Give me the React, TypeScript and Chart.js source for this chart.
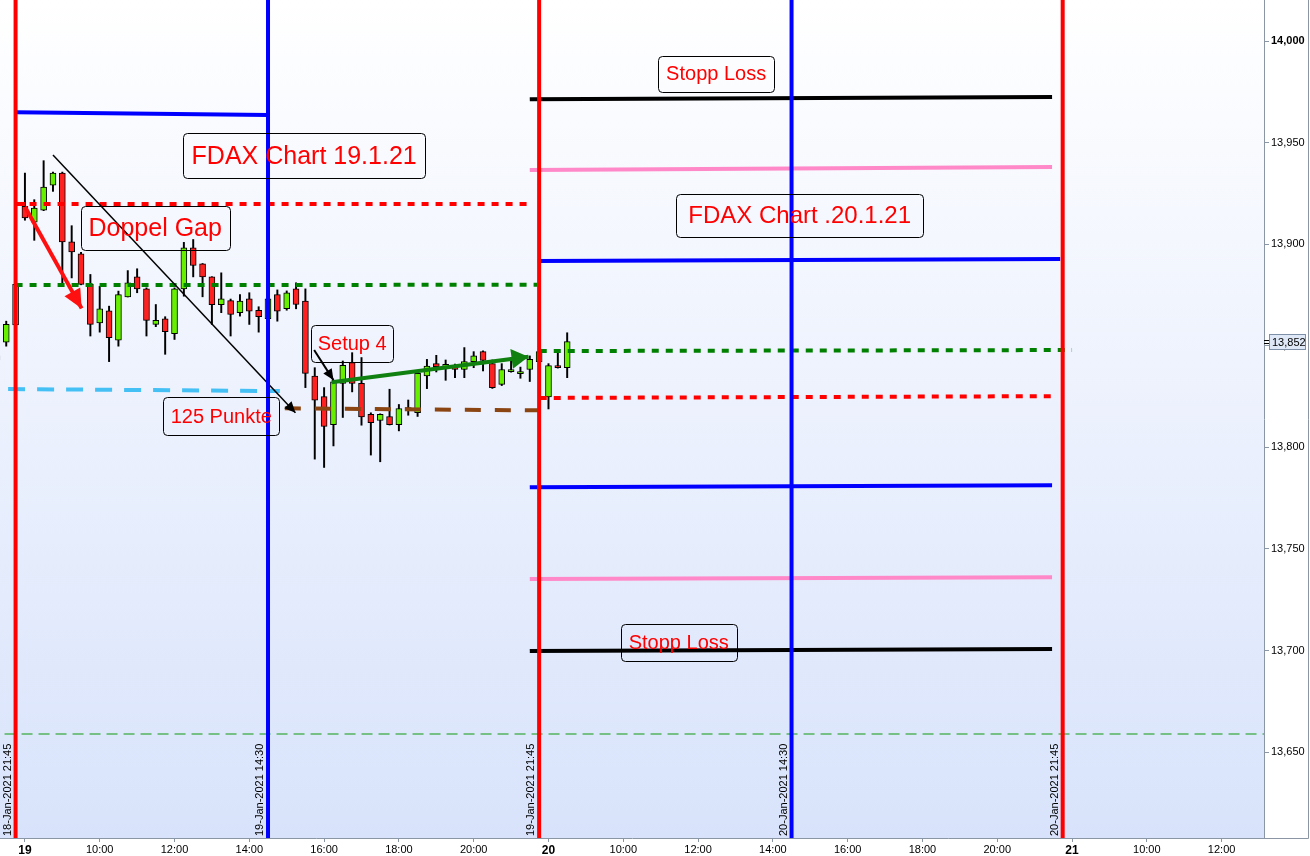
import React, { useEffect, useRef } from "react";
import { Chart, registerables } from "chart.js";

Chart.register(...registerables);

// ---------------- data ----------------
// 15-minute FDAX candles (session 08:00-22:00)
const candleTimes = [
  "2021-01-18 21:15", "2021-01-18 21:30", "2021-01-18 21:45",
  "2021-01-19 08:00", "2021-01-19 08:15", "2021-01-19 08:30", "2021-01-19 08:45",
  "2021-01-19 09:00", "2021-01-19 09:15", "2021-01-19 09:30", "2021-01-19 09:45",
  "2021-01-19 10:00", "2021-01-19 10:15", "2021-01-19 10:30", "2021-01-19 10:45",
  "2021-01-19 11:00", "2021-01-19 11:15", "2021-01-19 11:30", "2021-01-19 11:45",
  "2021-01-19 12:00", "2021-01-19 12:15", "2021-01-19 12:30", "2021-01-19 12:45",
  "2021-01-19 13:00", "2021-01-19 13:15", "2021-01-19 13:30", "2021-01-19 13:45",
  "2021-01-19 14:00", "2021-01-19 14:15", "2021-01-19 14:30", "2021-01-19 14:45",
  "2021-01-19 15:00", "2021-01-19 15:15", "2021-01-19 15:30", "2021-01-19 15:45",
  "2021-01-19 16:00", "2021-01-19 16:15", "2021-01-19 16:30", "2021-01-19 16:45",
  "2021-01-19 17:00", "2021-01-19 17:15", "2021-01-19 17:30", "2021-01-19 17:45",
  "2021-01-19 18:00", "2021-01-19 18:15", "2021-01-19 18:30", "2021-01-19 18:45",
  "2021-01-19 19:00", "2021-01-19 19:15", "2021-01-19 19:30", "2021-01-19 19:45",
  "2021-01-19 20:00", "2021-01-19 20:15", "2021-01-19 20:30", "2021-01-19 20:45",
  "2021-01-19 21:00", "2021-01-19 21:15", "2021-01-19 21:30", "2021-01-19 21:45",
  "2021-01-20 08:00", "2021-01-20 08:15", "2021-01-20 08:30",
];
const candleOpen = [
  13845, 13851.8, 13860.2,
  13918.6, 13910.8, 13916.8, 13929.1,
  13935, 13901.1, 13895.2, 13880.2,
  13861.3, 13867.2, 13852.8, 13874.1,
  13883.9, 13878, 13860.5, 13863.3,
  13855.9, 13878, 13898.2, 13890.3,
  13883.9, 13870.2, 13872.2, 13866.3,
  13873.1, 13867.4, 13863.3, 13875.2,
  13868.2, 13878, 13872, 13835.1,
  13825, 13811.2, 13831.5, 13841.7,
  13831.5, 13816.2, 13813.2, 13815.2,
  13811.2, 13819.6, 13817.1, 13835.1,
  13841.2, 13839.6, 13839.5, 13838.3,
  13842.2, 13847.1, 13841.2, 13831,
  13837.3, 13836.3, 13838.3, 13842.2,
  13824.8, 13840.2, 13839.2,
];
const candleHigh = [
  13848, 13862.1, 13881,
  13935, 13921.9, 13941.1, 13935.5,
  13935.5, 13909.1, 13896, 13885.1,
  13879.3, 13869.5, 13876.9, 13887,
  13887.9, 13878.5, 13870.3, 13864.3,
  13878.5, 13900.9, 13902.3, 13890.5,
  13884, 13885.9, 13873, 13875.2,
  13876.1, 13869.2, 13874, 13877.5,
  13877, 13881, 13878, 13839.2,
  13829.4, 13833, 13842.5, 13846.6,
  13844.2, 13817, 13816.5, 13828.6,
  13821.1, 13823.3, 13837, 13843.3,
  13845.3, 13843, 13841, 13849.1,
  13847.1, 13847.5, 13843, 13841.2,
  13844.2, 13839.5, 13845, 13848,
  13841.2, 13848.2, 13856.4,
];
const candleLow = [
  13838, 13849.8, 13859.5,
  13911.8, 13901.9, 13916.5, 13926,
  13881, 13883.4, 13880, 13854.8,
  13856.7, 13842.2, 13849.8, 13874,
  13876.1, 13854.8, 13859.4, 13845.8,
  13853.1, 13874.4, 13883.9, 13874.1,
  13860.5, 13866.3, 13854.8, 13864.6,
  13860.5, 13856.7, 13862, 13862.1,
  13867.5, 13868.2, 13829.4, 13794.2,
  13790.1, 13800.7, 13814.7, 13827.3,
  13810.9, 13796.2, 13792.9, 13811,
  13808.1, 13815.8, 13815.2, 13828.9,
  13837.1, 13833, 13834.3, 13834.3,
  13839.2, 13837.6, 13829, 13830.4,
  13837, 13834, 13832.4, 13842,
  13818.9, 13839, 13834.3,
];
const candleClose = [
  13843, 13860.5, 13880.2,
  13912.9, 13917.8, 13928.1, 13935,
  13901.1, 13896.2, 13880.2, 13860.5,
  13868.2, 13854, 13875.2, 13881,
  13878, 13862.5, 13862.5, 13856.9,
  13878, 13898.2, 13889.5, 13883.9,
  13870.2, 13873.1, 13865.4, 13872,
  13867, 13864.3, 13873.1, 13867,
  13876.1, 13870.3, 13836.4, 13823.2,
  13810.3, 13832.2, 13840.4, 13831.5,
  13815, 13812.2, 13816.2, 13811.2,
  13819.1, 13818.4, 13836.4, 13840,
  13839.7, 13840.8, 13838.3, 13842.2,
  13845, 13842.8, 13829.4, 13838.3,
  13838.3, 13837.3, 13843.3, 13847.1,
  13840.2, 13839.2, 13852,
];

// x axis
const xRange = ["2021-01-18 21:20", "2021-01-21 13:08"];
const xTickTimes = [
  "2021-01-19 08:00", "2021-01-19 10:00", "2021-01-19 12:00", "2021-01-19 14:00",
  "2021-01-19 16:00", "2021-01-19 18:00", "2021-01-19 20:00",
  "2021-01-20 08:00", "2021-01-20 10:00", "2021-01-20 12:00", "2021-01-20 14:00",
  "2021-01-20 16:00", "2021-01-20 18:00", "2021-01-20 20:00",
  "2021-01-21 08:00", "2021-01-21 10:00", "2021-01-21 12:00",
];
const xTickLabels = [
  "19", "10:00", "12:00", "14:00", "16:00", "18:00", "20:00",
  "20", "10:00", "12:00", "14:00", "16:00", "18:00", "20:00",
  "21", "10:00", "12:00",
];
const xDayLabels = ["19", "20", "21"];

// y axis
const yRange = [13607.7, 14020.2];
const yTicks = [13650, 13700, 13750, 13800, 13850, 13900, 13950, 14000];

// vertical time markers
const markerTimes = ["2021-01-18 21:45", "2021-01-19 14:30", "2021-01-19 21:45", "2021-01-20 14:30", "2021-01-20 21:45"];
const markerLabels = ["18-Jan-2021 21:45", "19-Jan-2021 14:30", "19-Jan-2021 21:45", "20-Jan-2021 14:30", "20-Jan-2021 21:45"];

// horizontal levels
const levelStartTimes = [
  "2021-01-18 21:45", "2021-01-18 21:45", "2021-01-18 21:45", "2021-01-18 21:33", "2021-01-19 14:57",
  "2021-01-19 21:30", "2021-01-19 21:30", "2021-01-19 21:43", "2021-01-19 21:46", "2021-01-19 21:46",
  "2021-01-19 21:30", "2021-01-19 21:30", "2021-01-19 21:30", "2021-01-18 21:00", "2021-01-18 21:45",
];
const levelEndTimes = [
  "2021-01-19 14:30", "2021-01-19 21:30", "2021-01-19 21:42", "2021-01-19 14:49", "2021-01-19 21:43",
  "2021-01-20 21:28", "2021-01-20 21:28", "2021-01-20 21:41", "2021-01-20 22:00", "2021-01-20 21:28",
  "2021-01-20 21:28", "2021-01-20 21:28", "2021-01-20 21:28", "2021-01-21 14:00", "2021-01-19 08:00",
];
const levelStartPrices = [
  13964.9, 13919.8, 13879.9, 13828.7, 13819.2,
  13971.4, 13936.5, 13891.7, 13847.4, 13824.3,
  13780.4, 13735.2, 13699.7, 13658.9, 13919.8,
];
const levelEndPrices = [
  13963.6, 13919.8, 13880.0, 13827.7, 13818.2,
  13972.4, 13938.0, 13892.7, 13847.9, 13825.2,
  13781.4, 13736.1, 13700.7, 13658.9, 13919.8,
];

// arrows
const arrowStartTimes = ["2021-01-19 08:00", "2021-01-19 08:45", "2021-01-19 15:44", "2021-01-19 16:12"];
const arrowEndTimes = ["2021-01-19 09:31", "2021-01-19 15:14", "2021-01-19 16:15", "2021-01-19 21:28"];
const arrowStartPrices = [13918.4, 13943.9, 13847.9, 13832.0];
const arrowEndPrices = [13868.4, 13817.0, 13833.1, 13844.6];

// notes
const noteTexts = ["FDAX Chart 19.1.21", "Doppel Gap", "Stopp Loss", "FDAX Chart .20.1.21", "Setup 4", "125 Punkte", "Stopp Loss"];
const noteTimes = ["2021-01-19 15:28", "2021-01-19 11:29", "2021-01-20 12:29", "2021-01-20 14:43", "2021-01-19 16:45", "2021-01-19 13:15", "2021-01-20 11:29"];
const notePrices = [13943.6, 13907.9, 13983.8, 13914.1, 13851.1, 13815.4, 13703.9];

// ---------------- styles ----------------
const GREEN_CANDLE = "#66f000";
const RED_CANDLE = "#ff2020";
const AXIS_COLOR = "#8a96a3";
const FONT = "'Liberation Sans', Arial, Helvetica, sans-serif";

const markerColors = ["#ff0000", "#0000ff", "#ff0000", "#0000ff", "#ff0000"];
const levelStyles = [
  { color: "#0000ff", width: 4, dash: [] as number[] },
  { color: "#ff0000", width: 4, dash: [7, 7] },
  { color: "#008000", width: 4, dash: [7, 7] },
  { color: "#45c0f5", width: 4, dash: [17, 12] },
  { color: "#8b4513", width: 4, dash: [16, 14] },
  { color: "#000000", width: 4, dash: [] },
  { color: "#ff88c8", width: 4, dash: [] },
  { color: "#0000ff", width: 4, dash: [] },
  { color: "#008000", width: 4, dash: [7, 7] },
  { color: "#ff0000", width: 4, dash: [7, 7] },
  { color: "#0000ff", width: 4, dash: [] },
  { color: "#ff88c8", width: 4, dash: [] },
  { color: "#000000", width: 4, dash: [] },
  { color: "#119911", width: 1.2, dash: [11, 6] },
  { color: "#ff0000", width: 4, dash: [] },
];
const arrowStyles = [
  { color: "#ff1010", width: 4, head: 19, half: 9 },
  { color: "#000000", width: 1.5, head: 11, half: 5 },
  { color: "#000000", width: 2, head: 11, half: 5 },
  { color: "#108010", width: 4, head: 17, half: 10 },
];
const noteStyles = [
  { size: 25, w: 242, h: 45 },
  { size: 25, w: 149, h: 44 },
  { size: 20, w: 116, h: 36 },
  { size: 24, w: 247, h: 43 },
  { size: 20, w: 82, h: 37 },
  { size: 20, w: 116, h: 38 },
  { size: 20, w: 116, h: 37 },
];

// ---------------- helpers ----------------
// trading-hours axis: each session 08:00-22:00, 0 = 19 Jan 08:00
function th(s: string): number {
  const [d, t] = s.split(" ");
  const day = Number(d.slice(8, 10)) - 19;
  const [hh, mm] = t.split(":").map(Number);
  return day * 14 + (hh + mm / 60 - 8);
}
const fmt = (v: number) => Math.round(v).toLocaleString("en-US");

const overlayPlugin = {
  id: "overlay",
  beforeDraw(chart: any) {
    const { ctx, chartArea: a, width, height } = chart;
    ctx.save();
    ctx.fillStyle = "#ffffff";
    ctx.fillRect(0, 0, width, height);
    const g = ctx.createLinearGradient(0, a.top, 0, a.bottom);
    g.addColorStop(0, "#ffffff");
    g.addColorStop(1, "#d8e3fb");
    ctx.fillStyle = g;
    ctx.fillRect(a.left, a.top, a.right - a.left, a.bottom - a.top);
    ctx.restore();
  },
  afterDatasetsDraw(chart: any) {
    const { ctx, chartArea: a } = chart;
    const xs = chart.scales.x;
    const ys = chart.scales.y;
    ctx.save();
    ctx.beginPath();
    ctx.rect(a.left, a.top, a.right - a.left, a.bottom - a.top);
    ctx.clip();

    // arrow heads
    arrowStartTimes.forEach((st, i) => {
      const x1 = xs.getPixelForValue(th(st));
      const y1 = ys.getPixelForValue(arrowStartPrices[i]);
      const x2 = xs.getPixelForValue(th(arrowEndTimes[i]));
      const y2 = ys.getPixelForValue(arrowEndPrices[i]);
      const s = arrowStyles[i];
      const ang = Math.atan2(y2 - y1, x2 - x1);
      const bx = x2 - s.head * Math.cos(ang);
      const by = y2 - s.head * Math.sin(ang);
      ctx.beginPath();
      ctx.moveTo(x2, y2);
      ctx.lineTo(bx + s.half * Math.sin(ang), by - s.half * Math.cos(ang));
      ctx.lineTo(bx - s.half * Math.sin(ang), by + s.half * Math.cos(ang));
      ctx.closePath();
      ctx.fillStyle = s.color;
      ctx.fill();
    });

    // notes
    noteTexts.forEach((t, i) => {
      const cx = xs.getPixelForValue(th(noteTimes[i]));
      const cy = ys.getPixelForValue(notePrices[i]);
      const s = noteStyles[i];
      const x0 = Math.round(cx - s.w / 2) + 0.5;
      const y0 = Math.round(cy - s.h / 2) + 0.5;
      ctx.beginPath();
      (ctx as any).roundRect(x0, y0, s.w, s.h, 4);
      ctx.strokeStyle = "#000000";
      ctx.lineWidth = 1;
      ctx.stroke();
      ctx.fillStyle = "#ff0000";
      ctx.font = `${s.size}px ${FONT}`;
      ctx.textAlign = "center";
      ctx.textBaseline = "middle";
      ctx.fillText(t, cx, cy + 1);
    });

    // marker labels
    markerTimes.forEach((mt, i) => {
      const x = xs.getPixelForValue(th(mt)) - 8;
      ctx.save();
      ctx.translate(x, a.bottom - 2);
      ctx.rotate(-Math.PI / 2);
      ctx.fillStyle = "#000000";
      ctx.font = `11px ${FONT}`;
      ctx.textAlign = "left";
      ctx.textBaseline = "middle";
      ctx.fillText(markerLabels[i], 0, 0);
      ctx.restore();
    });
    ctx.restore();
  },
  afterDraw(chart: any) {
    const { ctx, chartArea: a, width } = chart;
    const ys = chart.scales.y;
    ctx.save();
    // frame around price axis
    ctx.strokeStyle = AXIS_COLOR;
    ctx.lineWidth = 1;
    ctx.beginPath();
    ctx.moveTo(width - 1.5, 0);
    ctx.lineTo(width - 1.5, a.bottom + 0.5);
    ctx.lineTo(a.right, a.bottom + 0.5);
    ctx.stroke();
    // last price label
    const last = candleClose[candleClose.length - 1];
    const py = Math.round(ys.getPixelForValue(last));
    ctx.strokeStyle = "#000000";
    ctx.beginPath();
    ctx.moveTo(a.right, py - 1.5);
    ctx.lineTo(a.right + 5, py - 1.5);
    ctx.moveTo(a.right, py + 1.5);
    ctx.lineTo(a.right + 5, py + 1.5);
    ctx.stroke();
    ctx.fillStyle = "#dfe8f6";
    ctx.fillRect(a.right + 5.5, py - 7.5, 36, 15);
    ctx.strokeStyle = "#7e8fa8";
    ctx.strokeRect(a.right + 5.5, py - 7.5, 36, 15);
    ctx.fillStyle = "#000000";
    ctx.font = `11px ${FONT}`;
    ctx.textAlign = "left";
    ctx.textBaseline = "middle";
    ctx.fillText(fmt(last), a.right + 8, py + 0.5);
    ctx.restore();
  },
};

export default function App() {
  const ref = useRef<HTMLCanvasElement>(null);
  useEffect(() => {
    document.body.style.margin = "0";
    Chart.defaults.font.family = FONT;

    const candleX = candleTimes.map(th);
    const wicks = candleX.map((x, i) => ({ x, y: [candleLow[i], candleHigh[i]] }));
    const bodies = candleX.map((x, i) => ({ x, y: [candleOpen[i], candleClose[i]] }));
    const bodyColors = candleOpen.map((o, i) => (candleClose[i] >= o ? GREEN_CANDLE : RED_CANDLE));

    const lineBase = {
      type: "line" as const,
      pointRadius: 0,
      pointHoverRadius: 0,
      fill: false,
      tension: 0,
      borderCapStyle: "butt" as const,
      clip: 0,
    };

    const levelSets = levelStartTimes.map((st, i) => ({
      ...lineBase,
      label: "level" + i,
      data: [
        { x: th(st), y: levelStartPrices[i] },
        { x: th(levelEndTimes[i]), y: levelEndPrices[i] },
      ],
      borderColor: levelStyles[i].color,
      borderWidth: levelStyles[i].width,
      borderDash: levelStyles[i].dash,
      order: 50,
    }));
    const arrowSets = arrowStartTimes.map((st, i) => ({
      ...lineBase,
      label: "arrow" + i,
      data: [
        { x: th(st), y: arrowStartPrices[i] },
        { x: th(arrowEndTimes[i]), y: arrowEndPrices[i] },
      ],
      borderColor: arrowStyles[i].color,
      borderWidth: arrowStyles[i].width,
      order: 40,
    }));
    const markerSets = markerTimes.map((mt, i) => ({
      ...lineBase,
      label: "marker" + i,
      data: [
        { x: th(mt), y: yRange[0] },
        { x: th(mt), y: yRange[1] },
      ],
      borderColor: markerColors[i],
      borderWidth: 4,
      order: 30,
    }));

    const chart = new Chart(ref.current as HTMLCanvasElement, {
      type: "bar",
      data: {
        datasets: [
          {
            label: "wick",
            data: wicks as any,
            backgroundColor: "#000000",
            borderWidth: 0,
            barThickness: 1.3,
            grouped: false,
            order: 100,
            clip: 0,
          } as any,
          {
            label: "body",
            data: bodies as any,
            backgroundColor: bodyColors,
            borderColor: "#000000",
            borderWidth: 1,
            borderSkipped: false,
            barThickness: 6,
            grouped: false,
            order: 99,
            clip: 0,
          } as any,
          ...(levelSets as any[]),
          ...(arrowSets as any[]),
          ...(markerSets as any[]),
        ],
      },
      options: {
        responsive: false,
        animation: false,
        events: [],
        layout: { padding: 0 },
        plugins: {
          legend: { display: false },
          tooltip: { enabled: false },
          title: { display: false },
        },
        scales: {
          x: {
            type: "linear",
            offset: false,
            min: th(xRange[0]),
            max: th(xRange[1]),
            afterBuildTicks: (axis: any) => {
              axis.ticks = xTickTimes.map((t) => ({ value: th(t) }));
            },
            afterFit: (axis: any) => {
              axis.height = 18;
              axis.paddingLeft = 0;
              axis.paddingRight = 0;
            },
            grid: {
              offset: false,
              drawOnChartArea: false,
              drawTicks: true,
              tickLength: 4,
              color: AXIS_COLOR,
            },
            border: { display: true, color: AXIS_COLOR },
            ticks: {
              autoSkip: false,
              maxRotation: 0,
              minRotation: 0,
              padding: 1,
              color: "#000000",
              font: (c: any) => {
                const idx = c.index;
                const lab = xTickLabels[idx];
                return xDayLabels.includes(lab)
                  ? { size: 12, weight: "bold", family: FONT }
                  : { size: 11, family: FONT };
              },
              callback: (_v: any, idx: number) => xTickLabels[idx],
            },
          },
          y: {
            type: "linear",
            position: "right",
            min: yRange[0],
            max: yRange[1],
            afterBuildTicks: (axis: any) => {
              axis.ticks = yTicks.map((v) => ({ value: v }));
            },
            afterFit: (axis: any) => {
              axis.width = 46;
              axis.paddingTop = 0;
              axis.paddingBottom = 0;
            },
            grid: {
              drawOnChartArea: false,
              drawTicks: true,
              tickLength: 5,
              color: AXIS_COLOR,
            },
            border: { display: true, color: AXIS_COLOR },
            ticks: {
              padding: 2,
              color: "#000000",
              font: (c: any) =>
                c.tick && c.tick.value === 14000
                  ? { size: 11, weight: "bold", family: FONT }
                  : { size: 11, family: FONT },
              callback: (v: any) => fmt(Number(v)),
            },
          },
        },
      },
      plugins: [overlayPlugin as any],
    });
    return () => chart.destroy();
  }, []);

  return (
    <div style={{ position: "fixed", left: 0, top: 0, width: 1310, height: 856, background: "#fff" }}>
      <canvas ref={ref} width={1310} height={856} style={{ display: "block", width: 1310, height: 856 }} />
    </div>
  );
}
